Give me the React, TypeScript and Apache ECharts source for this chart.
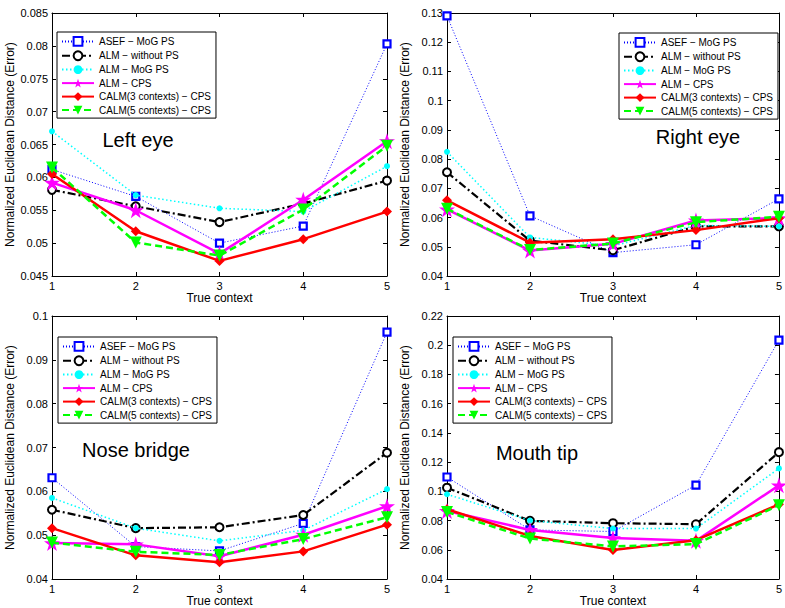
import React, { useEffect, useRef } from "react";
import * as echarts from "echarts";

const contexts = [1, 2, 3, 4, 5];
const seriesNames = [
  "ASEF − MoG PS",
  "ALM − without PS",
  "ALM − MoG PS",
  "ALM − CPS",
  "CALM(3 contexts) − CPS",
  "CALM(5 contexts) − CPS",
];
const panelTitles = ["Left eye", "Right eye", "Nose bridge", "Mouth tip"];

const leftEye = [
  [0.0612, 0.0571, 0.05, 0.0526, 0.0803],
  [0.0581, 0.0556, 0.0532, 0.056, 0.0595],
  [0.067, 0.0573, 0.0553, 0.0548, 0.0617],
  [0.0592, 0.055, 0.0484, 0.0566, 0.0655],
  [0.0605, 0.0518, 0.0473, 0.0506, 0.0548],
  [0.0615, 0.0501, 0.0481, 0.0551, 0.0648],
];
const rightEye = [
  [0.129, 0.0606, 0.048, 0.0507, 0.0664],
  [0.0755, 0.0521, 0.0488, 0.057, 0.057],
  [0.0825, 0.0532, 0.0503, 0.0573, 0.057],
  [0.0628, 0.0487, 0.051, 0.059, 0.0598],
  [0.0659, 0.0514, 0.0526, 0.0557, 0.0598],
  [0.063, 0.0489, 0.0511, 0.0584, 0.0603],
];
const noseBridge = [
  [0.0631, 0.0474, 0.0464, 0.0527, 0.0963],
  [0.0558, 0.0516, 0.0518, 0.0546, 0.0688],
  [0.0585, 0.0516, 0.0487, 0.0511, 0.0605],
  [0.0482, 0.0479, 0.0452, 0.0501, 0.0566],
  [0.0516, 0.0454, 0.0438, 0.0463, 0.0524],
  [0.0483, 0.0462, 0.0455, 0.0491, 0.0541],
];
const mouthTip = [
  [0.1098, 0.0736, 0.0725, 0.1043, 0.2035],
  [0.1025, 0.0798, 0.0782, 0.0775, 0.1268],
  [0.098, 0.08, 0.0745, 0.0745, 0.1157],
  [0.0866, 0.0736, 0.068, 0.0661, 0.1041],
  [0.0877, 0.0695, 0.0598, 0.0666, 0.0911],
  [0.0859, 0.0677, 0.0623, 0.0639, 0.0905],
];
const yMin = [0.045, 0.04, 0.04, 0.04];
const yMax = [0.085, 0.13, 0.1, 0.22];
const yStep = [0.005, 0.01, 0.01, 0.02];

const panels = [leftEye, rightEye, noseBridge, mouthTip];

const FONT = "Liberation Sans, Arial, Helvetica, sans-serif";
const STAR =
  "path://M50,0 L61.8,36.2 L100,36.2 L69.1,58.6 L80.9,95.1 L50,72.7 L19.1,95.1 L30.9,58.6 L0,36.2 L38.2,36.2 Z";

const styles = [
  {
    line: { color: "#0000ff", width: 1, type: [1, 2] },
    symbol: "rect",
    size: 7,
    item: { color: "#ffffff", borderColor: "#0000ff", borderWidth: 2.2 },
    rotate: 0,
  },
  {
    line: { color: "#000000", width: 2.2, type: [8, 3, 2, 3] },
    symbol: "circle",
    size: 8,
    item: { color: "#ffffff", borderColor: "#000000", borderWidth: 2 },
    rotate: 0,
  },
  {
    line: { color: "#00ffff", width: 1.5, type: [1.5, 2.5] },
    symbol: "circle",
    size: 6,
    item: { color: "#00ffff", borderColor: "#00ffff", borderWidth: 0 },
    rotate: 0,
  },
  {
    line: { color: "#ff00ff", width: 2.5, type: "solid" },
    symbol: STAR,
    size: 16,
    item: { color: "#ff00ff", borderColor: "#ff00ff", borderWidth: 0 },
    rotate: 0,
  },
  {
    line: { color: "#ff0000", width: 2.5, type: "solid" },
    symbol: "diamond",
    size: 10,
    item: { color: "#ff0000", borderColor: "#ff0000", borderWidth: 0 },
    rotate: 0,
  },
  {
    line: { color: "#00ff00", width: 2.5, type: [7, 4] },
    symbol: "triangle",
    size: 12,
    item: { color: "#00ff00", borderColor: "#00ff00", borderWidth: 0 },
    rotate: 180,
  },
];

const grids = [
  { left: 52, top: 13, width: 335, height: 263 },
  { left: 447, top: 13, width: 335, height: 263 },
  { left: 52, top: 316, width: 335, height: 263 },
  { left: 447, top: 316, width: 335, height: 263 },
];
const legendPos = [
  { left: 57, top: 32 },
  { left: 619, top: 33 },
  { left: 58, top: 337 },
  { left: 453, top: 337 },
];
const titlePos = [
  { x: 138, y: 140 },
  { x: 698, y: 137 },
  { x: 136, y: 450 },
  { x: 537, y: 453 },
];

const fmt = (v: number) => String(parseFloat(v.toFixed(4)));

export default function App() {
  const ref = useRef<HTMLDivElement>(null);
  useEffect(() => {
    document.body.style.margin = "0";
    if (!ref.current) return;
    const chart = echarts.init(ref.current, undefined, { renderer: "svg" });

    const xAxes: any[] = [];
    const yAxes: any[] = [];
    const series: any[] = [];
    panels.forEach((panel, p) => {
      xAxes.push({
        type: "value",
        gridIndex: p,
        min: 1,
        max: 5,
        interval: 1,
        position: "bottom",
        name: "True context",
        nameLocation: "middle",
        nameGap: 16,
        nameTextStyle: { color: "#000", fontSize: 12, fontFamily: FONT },
        axisLine: { show: true, lineStyle: { color: "#000", width: 1 } },
        axisTick: { inside: true, length: 4, lineStyle: { color: "#000" } },
        axisLabel: { color: "#000", fontSize: 11, fontFamily: FONT, margin: 4 },
        splitLine: { show: false },
      });
      yAxes.push({
        type: "value",
        gridIndex: p,
        min: yMin[p],
        max: yMax[p],
        interval: yStep[p],
        position: "left",
        name: "Normalized Euclidean Distance (Error)",
        nameLocation: "middle",
        nameGap: 36,
        nameTextStyle: { color: "#000", fontSize: 12, fontFamily: FONT },
        axisLine: { show: true, lineStyle: { color: "#000", width: 1 } },
        axisTick: { inside: true, length: 4, lineStyle: { color: "#000" } },
        axisLabel: {
          color: "#000",
          fontSize: 11,
          fontFamily: FONT,
          margin: 4,
          formatter: fmt,
        },
        splitLine: { show: false },
      });
    });
    panels.forEach((panel, p) => {
      xAxes.push({
        type: "value",
        gridIndex: p,
        min: 1,
        max: 5,
        interval: 1,
        position: "top",
        axisLine: { show: true, lineStyle: { color: "#000", width: 1 } },
        axisTick: { inside: true, length: 4, lineStyle: { color: "#000" } },
        axisLabel: { show: false },
        splitLine: { show: false },
      });
      yAxes.push({
        type: "value",
        gridIndex: p,
        min: yMin[p],
        max: yMax[p],
        interval: yStep[p],
        position: "right",
        axisLine: { show: true, lineStyle: { color: "#000", width: 1 } },
        axisTick: { inside: true, length: 4, lineStyle: { color: "#000" } },
        axisLabel: { show: false },
        splitLine: { show: false },
      });
      panel.forEach((vals, s) => {
        const st = styles[s];
        series.push({
          type: "line",
          name: seriesNames[s],
          xAxisIndex: p,
          yAxisIndex: p,
          data: contexts.map((c, i) => [c, vals[i]]),
          symbol: st.symbol,
          symbolSize: st.size,
          symbolRotate: st.rotate,
          showAllSymbol: true,
          lineStyle: st.line,
          itemStyle: st.item,
          emphasis: { disabled: true },
          z: 2 + s,
        });
      });
    });

    const legends = legendPos.map((pos) => ({
      ...pos,
      orient: "vertical",
      data: seriesNames,
      backgroundColor: "#fff",
      borderColor: "#000",
      borderWidth: 1,
      borderRadius: 0,
      padding: [4, 5, 3, 4],
      itemGap: 3.5,
      itemWidth: 32,
      itemHeight: 11,
      textStyle: { color: "#000", fontSize: 10, fontFamily: FONT },
      selectedMode: false,
    }));

    chart.setOption({
      animation: false,
      backgroundColor: "#fff",
      grid: grids,
      xAxis: xAxes,
      yAxis: yAxes,
      legend: legends,
      series,
      graphic: titlePos.map((pos, i) => ({
        type: "text",
        x: pos.x,
        y: pos.y,
        z: 100,
        style: {
          text: panelTitles[i],
          fontSize: 20,
          fontFamily: FONT,
          fill: "#000",
          align: "center",
          verticalAlign: "middle",
        },
      })),
    });
    return () => chart.dispose();
  }, []);
  return <div ref={ref} style={{ width: 785, height: 608 }} />;
}
